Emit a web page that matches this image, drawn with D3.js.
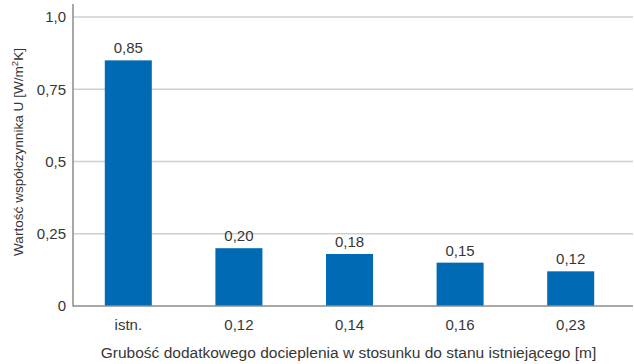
<!DOCTYPE html>
<html>
<head>
<meta charset="utf-8">
<script src="https://cdn.jsdelivr.net/npm/d3@7"></script>
<style>
  html, body { margin: 0; padding: 0; background: #fff; }
  svg { display: block; font-family: "Liberation Sans", Arial, sans-serif; }
</style>
</head>
<body>
<svg id="chart" width="634" height="364"></svg>
<script>
// U-value of the wall for the existing state and for added insulation thicknesses
const categories = ["istn.", "0,12", "0,14", "0,16", "0,23"];
const uValues = [0.85, 0.20, 0.18, 0.15, 0.12];
const valueLabels = ["0,85", "0,20", "0,18", "0,15", "0,12"];
const yTicks = [0, 0.25, 0.5, 0.75, 1.0];
const yTickLabels = ["0", "0,25", "0,5", "0,75", "1,0"];

const xTitle = "Grubość dodatkowego docieplenia w stosunku do stanu istniejącego [m]";

const svg = d3.select("#chart");
const plotLeft = 73, plotRight = 633, plotTop = 17, plotBottom = 306;
const fontSize = 15;
const textColor = "#363636";

const x = d3.scaleBand().domain(categories).range([plotLeft, plotLeft + 5 * 110.6]).paddingInner(0.575).paddingOuter(0.2875);
const y = d3.scaleLinear().domain([0, 1]).range([plotBottom, plotTop]);

// horizontal grid lines
svg.append("g")
  .selectAll("line")
  .data(yTicks.filter(d => d > 0))
  .join("line")
  .attr("x1", plotLeft).attr("x2", plotRight)
  .attr("y1", d => y(d)).attr("y2", d => y(d))
  .attr("stroke", "#cfcfcf").attr("stroke-width", 1.5);

// y axis labels
const yAxis = d3.axisLeft(y).tickValues(yTicks).tickSize(0).tickPadding(7)
  .tickFormat((d, i) => yTickLabels[i]);
const gy = svg.append("g").attr("transform", `translate(${plotLeft},0)`).call(yAxis);
gy.select(".domain").remove();
gy.selectAll("text").attr("fill", textColor).attr("font-size", fontSize)
  .attr("font-family", "Liberation Sans, Arial, sans-serif");

// bars
svg.append("g")
  .selectAll("rect")
  .data(uValues)
  .join("rect")
  .attr("x", (d, i) => x(categories[i]))
  .attr("width", x.bandwidth())
  .attr("y", d => y(d))
  .attr("height", d => y(0) - y(d))
  .attr("fill", "#006bb4");

// value labels above bars
svg.append("g")
  .selectAll("text")
  .data(uValues)
  .join("text")
  .attr("x", (d, i) => x(categories[i]) + x.bandwidth() / 2)
  .attr("y", d => y(d) - 7)
  .attr("text-anchor", "middle")
  .attr("font-size", fontSize)
  .attr("fill", textColor)
  .text((d, i) => valueLabels[i]);

// x axis labels
const xAxis = d3.axisBottom(x).tickSize(0).tickPadding(13.5);
const gx = svg.append("g").attr("transform", `translate(0,${plotBottom})`).call(xAxis);
gx.select(".domain").remove();
gx.selectAll("text").attr("fill", textColor).attr("font-size", fontSize)
  .attr("font-family", "Liberation Sans, Arial, sans-serif");

// axis lines
svg.append("line").attr("x1", plotLeft).attr("x2", plotLeft).attr("y1", 4).attr("y2", plotBottom + 0.5)
  .attr("stroke", "#8c8c8c").attr("stroke-width", 1.5);
svg.append("line").attr("x1", plotLeft).attr("x2", plotRight).attr("y1", plotBottom).attr("y2", plotBottom)
  .attr("stroke", "#8c8c8c").attr("stroke-width", 1.5);

// axis titles
svg.append("text")
  .attr("x", 348.5).attr("y", 358)
  .attr("text-anchor", "middle")
  .attr("font-size", 15.5)
  .attr("fill", textColor)
  .text(xTitle);

const yt = svg.append("text")
  .attr("transform", "translate(23,152) rotate(-90)")
  .attr("text-anchor", "middle")
  .attr("font-size", 13.6)
  .attr("fill", textColor);
yt.append("tspan").text("Wartość współczynnika U [W/m");
yt.append("tspan").attr("font-size", 9.5).attr("dy", -5).text("2");
yt.append("tspan").attr("dy", 5).text("K]");
</script>
</body>
</html>
